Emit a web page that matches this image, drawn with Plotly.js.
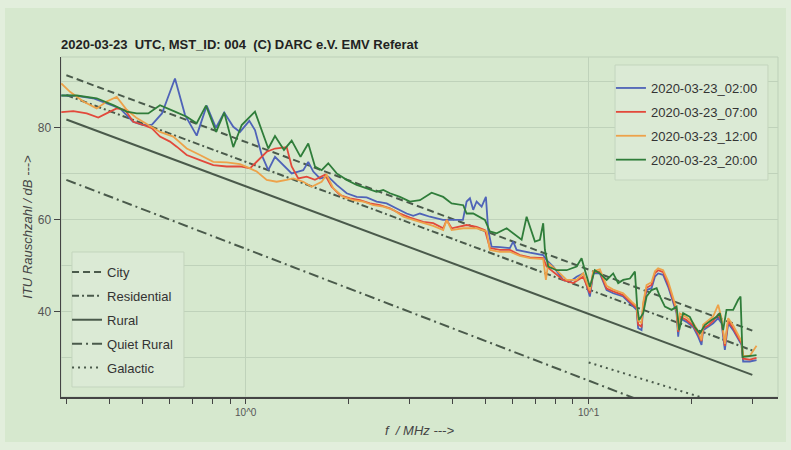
<!DOCTYPE html>
<html>
<head>
<meta charset="utf-8">
<script src="https://cdn.plot.ly/plotly-3.0.1.min.js"></script>
<style>
html,body{margin:0;padding:0;background:#e2eedc;width:791px;height:450px;overflow:hidden;}
#chart{position:absolute;left:5px;top:8px;width:781px;height:434px;}
</style>
</head>
<body>
<div id="chart"></div>
<script>
// ---- measured series (f in MHz, values in dB) ----
const fHigh = [10.08, 10.31, 10.78, 11.28, 11.79, 12.61, 13.34, 13.80, 13.94, 14.26, 14.42, 14.75, 15.25, 15.60, 15.94, 16.49, 17.05, 17.64, 18.04, 18.24, 18.44, 19.29, 20.16, 20.85, 21.33, 21.56, 22.30, 23.07, 23.85, 24.40, 24.95, 25.51, 26.38, 27.28, 27.91, 28.21, 29.50, 30.86];

const fBlueLow = [0.29, 0.3217, 0.3588, 0.402, 0.430, 0.4693, 0.5018, 0.5332, 0.570, 0.622, 0.6653, 0.7197, 0.7696, 0.8191, 0.8656, 0.920, 0.9625, 1.0245, 1.0643, 1.1134, 1.1637, 1.2174, 1.287, 1.3617, 1.4232, 1.4718, 1.522, 1.574, 1.6464, 1.7406, 1.8419, 1.9698, 2.1065, 2.2528, 2.409, 2.5763, 2.755, 2.946, 3.0796, 3.2212, 3.4448, 3.759, 4.020, 4.299, 4.407, 4.5056, 4.606, 4.713, 4.874, 5.016, 5.094, 5.212, 5.5105, 5.893, 6.025, 6.165, 6.74, 7.369, 7.540, 7.881, 8.428, 8.815, 9.221, 9.638];
const vBlueLow = [86.9, 86.8, 86.3, 85.0, 84.1, 81.2, 80.5, 80.6, 83.0, 90.6, 82.7, 78.2, 84.7, 79.9, 83.2, 80.1, 79.0, 81.4, 79.4, 74.0, 70.7, 73.6, 71.8, 70.0, 70.4, 70.7, 72.5, 70.4, 68.9, 69.3, 67.5, 65.7, 64.9, 64.8, 63.9, 63.5, 62.4, 61.3, 60.8, 61.3, 60.6, 59.9, 59.9, 59.9, 63.9, 64.6, 62.1, 63.9, 62.8, 64.9, 57.7, 54.1, 54.0, 53.8, 55.2, 53.4, 52.8, 52.3, 51.2, 49.8, 46.9, 46.5, 47.6, 48.3];
const vBlueHigh = [43.3, 48.3, 48.3, 44.7, 44.0, 43.3, 41.5, 40.4, 36.4, 36.0, 41.1, 44.7, 45.1, 47.6, 48.3, 48.0, 45.4, 41.8, 39.7, 34.6, 38.6, 37.8, 36.7, 34.6, 32.8, 36.0, 36.7, 37.5, 38.6, 37.5, 31.7, 37.5, 36.0, 33.9, 32.8, 29.2, 29.2, 29.5];

const fRedLow = [0.29, 0.3144, 0.344, 0.3717, 0.4021, 0.4206, 0.4447, 0.4702, 0.5028, 0.532, 0.5625, 0.6015, 0.6292, 0.673, 0.7357, 0.8044, 0.8802, 0.9625, 1.0293, 1.1007, 1.1515, 1.2174, 1.3168, 1.3617, 1.4232, 1.506, 1.592, 1.703, 1.781, 1.883, 2.0137, 2.1535, 2.303, 2.4628, 2.6338, 2.8166, 3.0121, 3.293, 3.522, 3.766, 3.854, 3.985, 4.2131, 4.407, 4.713, 4.983, 5.1528, 5.5105, 5.893, 6.302, 6.74, 7.369, 7.540, 7.881, 8.428, 9.012, 9.638];
const vRedLow = [83.3, 83.5, 83.0, 82.1, 83.4, 84.1, 83.8, 81.2, 80.5, 79.8, 78.0, 76.9, 75.8, 74.0, 72.9, 71.8, 71.5, 71.5, 71.1, 73.3, 74.7, 75.4, 75.7, 71.5, 68.9, 69.3, 68.6, 69.7, 67.1, 65.3, 64.6, 64.2, 63.5, 63.1, 62.4, 61.3, 60.4, 59.5, 59.2, 58.1, 59.9, 58.1, 58.4, 58.8, 58.4, 57.7, 53.8, 53.4, 53.4, 52.3, 51.8, 51.6, 49.8, 48.7, 46.9, 46.2, 47.6];
const vRedHigh = [44.0, 48.6, 48.7, 45.0, 44.4, 43.6, 41.8, 40.8, 37.2, 36.8, 41.5, 45.2, 45.8, 48.4, 49.0, 48.6, 46.0, 42.2, 40.2, 35.6, 39.0, 38.2, 37.0, 35.2, 33.6, 36.4, 37.0, 38.0, 39.4, 38.0, 32.6, 38.0, 36.4, 34.4, 33.2, 29.8, 29.6, 30.0];

const fOrangeLow = [0.29, 0.3075, 0.3362, 0.3678, 0.3933, 0.4206, 0.4498, 0.4811, 0.5145, 0.5625, 0.615, 0.673, 0.7357, 0.8044, 0.8802, 0.9625, 1.0293, 1.0768, 1.1515, 1.2314, 1.3168, 1.3764, 1.4718, 1.557, 1.665, 1.7223, 1.800, 1.925, 2.059, 2.202, 2.355, 2.518, 2.693, 2.880, 3.0796, 3.293, 3.522, 3.766, 3.854, 3.985, 4.308, 4.713, 5.041, 5.1528, 5.5105, 5.893, 6.302, 6.74, 7.369, 7.504, 7.621, 8.063, 8.623, 9.221, 9.638];
const vOrangeLow = [89.5, 87.7, 85.6, 84.1, 85.6, 86.6, 83.8, 82.0, 80.7, 79.0, 78.0, 75.4, 74.0, 72.5, 72.4, 72.0, 71.1, 70.4, 68.6, 68.2, 68.6, 68.9, 68.2, 67.1, 68.2, 69.7, 66.8, 64.9, 64.2, 63.9, 63.1, 62.8, 62.1, 60.6, 59.9, 59.2, 58.6, 57.7, 59.9, 57.7, 58.1, 58.1, 57.4, 53.4, 53.0, 53.0, 52.1, 51.6, 51.4, 46.9, 50.5, 49.0, 46.9, 46.9, 48.3];
const vOrangeHigh = [44.6, 48.8, 49.2, 45.6, 44.8, 44.0, 42.2, 41.2, 38.0, 37.6, 42.0, 45.8, 46.4, 48.8, 49.4, 49.0, 46.6, 42.8, 40.6, 36.0, 39.6, 38.8, 37.6, 35.8, 33.8, 37.2, 38.0, 39.0, 41.5, 38.6, 33.0, 38.6, 37.0, 35.0, 33.6, 30.4, 30.4, 32.6];

const fGreen = [0.29, 0.3217, 0.3678, 0.4111, 0.4498, 0.4811, 0.520, 0.5625, 0.622, 0.673, 0.7197, 0.766, 0.82, 0.8656, 0.920, 0.9736, 1.0643, 1.1637, 1.2174, 1.293, 1.3617, 1.445, 1.522, 1.592, 1.665, 1.7406, 1.8419, 1.9698, 2.1065, 2.2528, 2.409, 2.518, 2.6338, 2.8166, 3.0121, 3.2212, 3.484, 3.766, 3.985, 4.308, 4.407, 4.606, 4.983, 5.1528, 5.390, 5.765, 6.025, 6.375, 6.593, 6.74, 6.971, 7.208, 7.369, 7.454, 7.621, 8.063, 8.623, 9.221, 9.535, 9.749,
  10.08, 10.42, 10.78, 11.28, 11.79, 12.19, 12.61, 13.19, 13.64, 13.85, 14.03, 14.42, 14.75, 15.25, 15.78, 16.13, 16.68, 17.45, 18.04, 18.36, 18.85, 19.72, 20.39, 21.09, 21.81, 22.82, 23.60, 24.12, 24.66, 25.23, 26.38, 27.28, 27.72, 28.10, 29.50, 30.86];
const vGreen = [86.9, 86.9, 86.3, 84.8, 83.4, 83.0, 83.0, 84.8, 83.4, 82.3, 80.9, 84.7, 79.0, 83.2, 75.7, 80.5, 83.4, 75.4, 78.1, 75.1, 77.1, 73.6, 76.5, 71.5, 70.7, 72.2, 70.0, 68.6, 67.5, 66.8, 66.0, 66.4, 65.7, 64.9, 63.9, 64.2, 65.8, 64.9, 63.5, 63.1, 61.3, 61.3, 59.9, 57.4, 57.0, 58.1, 57.0, 55.6, 60.6, 58.4, 55.2, 55.6, 59.2, 53.4, 49.8, 49.0, 49.0, 49.8, 51.6, 49.0,
  45.4, 49.0, 48.3, 46.9, 48.3, 46.2, 46.9, 47.2, 48.7, 41.1, 38.2, 39.7, 43.3, 44.7, 45.1, 43.3, 41.1, 40.4, 41.1, 36.0, 39.7, 38.9, 36.7, 35.3, 37.1, 38.2, 38.9, 39.7, 36.0, 40.4, 40.4, 42.6, 43.3, 30.2, 30.4, 30.6];

const seriesNames = ['2020-03-23_02:00', '2020-03-23_07:00', '2020-03-23_12:00', '2020-03-23_20:00'];

// ---- ITU-R P.372 reference lines (end points) ----
const fItu = [0.3, 30];
const vCity = [91.3, 35.9];
const vResidential = [87.0, 31.6];
const vRural = [81.7, 26.3];
const vQuietRural = [68.6, 11.4];
const fGalactic = [10, 30];
const vGalactic = [29.0, 18.0];
const ituNames = ['City', 'Residential', 'Rural', 'Quiet Rural', 'Galactic'];

const xMinorTicks = [0.3, 0.4, 0.5, 0.6, 0.7, 0.8, 0.9, 2, 3, 4, 5, 6, 7, 8, 9, 20, 30];

const ituColor = '#4a5a4b';
const ituLine = (x, y, name, dash, g) => ({
  x: x, y: y, name: name, type: 'scatter', mode: 'lines',
  line: {color: ituColor, width: 2, dash: dash},
  legend: 'legend2', legendgroup: g
});
const dataLine = (x, y, name, color, g) => ({
  x: x, y: y, name: name, type: 'scatter', mode: 'lines',
  line: {color: color, width: 1.8},
  legend: 'legend', legendgroup: g
});

const traces = [
  ituLine(fItu, vCity, ituNames[0], '7px,4px', 'i1'),
  ituLine(fItu, vResidential, ituNames[1], '7px,3px,2px,3px', 'i2'),
  ituLine(fItu, vRural, ituNames[2], 'solid', 'i3'),
  ituLine(fItu, vQuietRural, ituNames[3], '10px,4px,2px,4px', 'i4'),
  ituLine(fGalactic, vGalactic, ituNames[4], '2px,4px', 'i5'),
  dataLine(fBlueLow.concat(fHigh), vBlueLow.concat(vBlueHigh), seriesNames[0], '#4f63b8', 'd1'),
  dataLine(fRedLow.concat(fHigh), vRedLow.concat(vRedHigh), seriesNames[1], '#e2493b', 'd2'),
  dataLine(fOrangeLow.concat(fHigh), vOrangeLow.concat(vOrangeHigh), seriesNames[2], '#eda24a', 'd3'),
  dataLine(fGreen, vGreen, seriesNames[3], '#2f7d3a', 'd4')
];

const bg = '#d6e8ce';
const grid = '#bfd2ba';
const axisCol = '#444';
const boxFill = '#dbead5';
const boxLine = '#c3d5be';
const legendStyle = {
  bgcolor: 'rgba(0,0,0,0)', borderwidth: 0,
  font: {family: 'Liberation Sans, Arial, sans-serif', size: 13, color: '#333'},
  traceorder: 'grouped', tracegroupgap: 4
};

const layout = {
  width: 781, height: 434,
  paper_bgcolor: bg, plot_bgcolor: bg,
  margin: {l: 56, r: 8, t: 49, b: 45},
  font: {family: 'Liberation Sans, Arial, sans-serif', color: '#444'},
  title: {
    text: '<b>2020-03-23&nbsp; UTC, MST_ID: 004&nbsp; (C) DARC e.V. EMV Referat</b>',
    font: {size: 13, color: '#222'},
    xref: 'paper', x: 0, xanchor: 'left',
    yref: 'container', y: 0.917, yanchor: 'middle'
  },
  xaxis: {
    type: 'log', range: [-0.5385, 1.552],
    tickmode: 'array', tickvals: [1, 10], ticktext: ['10^0', '10^1'],
    ticks: 'outside', ticklen: 5, tickcolor: axisCol,
    showline: true, linecolor: axisCol, linewidth: 1.5,
    showgrid: true, gridcolor: grid, zeroline: false,
    tickfont: {size: 10, color: '#555'},
    minor: {tickmode: 'array', tickvals: xMinorTicks, ticks: 'outside', ticklen: 5, tickcolor: axisCol, showgrid: false},
    title: {text: '<i>f&nbsp; / MHz ---&gt;</i>', font: {size: 13, color: '#444'}, standoff: 9}
  },
  yaxis: {
    range: [21.5, 95.25],
    tickmode: 'array', tickvals: [40, 60, 80],
    ticks: 'outside', ticklen: 6, tickcolor: axisCol,
    showline: true, linecolor: axisCol, linewidth: 1.5,
    showgrid: true, gridcolor: grid, zeroline: false,
    tickfont: {size: 12, color: '#555'},
    minor: {tick0: 0, dtick: 10, showgrid: true, gridcolor: grid, ticks: ''},
    title: {text: '<i>ITU Rauschzahl / dB ---&gt;</i>', font: {size: 13, color: '#444'}, standoff: 2}
  },
  legend: Object.assign({x: 0.767, y: 0.9529, xanchor: 'left', yanchor: 'top'}, legendStyle),
  legend2: Object.assign({x: 0.0084, y: 0.4118, xanchor: 'left', yanchor: 'top'}, legendStyle),
  shapes: [
    {type: 'rect', xref: 'paper', yref: 'paper', x0: 0, x1: 1, y0: 0, y1: 1,
     line: {color: '#bdd0b8', width: 1}, layer: 'below'},
    {type: 'rect', xref: 'paper', yref: 'paper', x0: 0.7727, x1: 0.986, y0: 0.6382, y1: 0.9765,
     fillcolor: boxFill, line: {color: boxLine, width: 1}, layer: 'above'},
    {type: 'rect', xref: 'paper', yref: 'paper', x0: 0.0153, x1: 0.1715, y0: 0.0294, y1: 0.4265,
     fillcolor: boxFill, line: {color: boxLine, width: 1}, layer: 'above'}
  ],
  showlegend: true
};

Plotly.newPlot('chart', traces, layout, {staticPlot: true, displayModeBar: false});
</script>
</body>
</html>
